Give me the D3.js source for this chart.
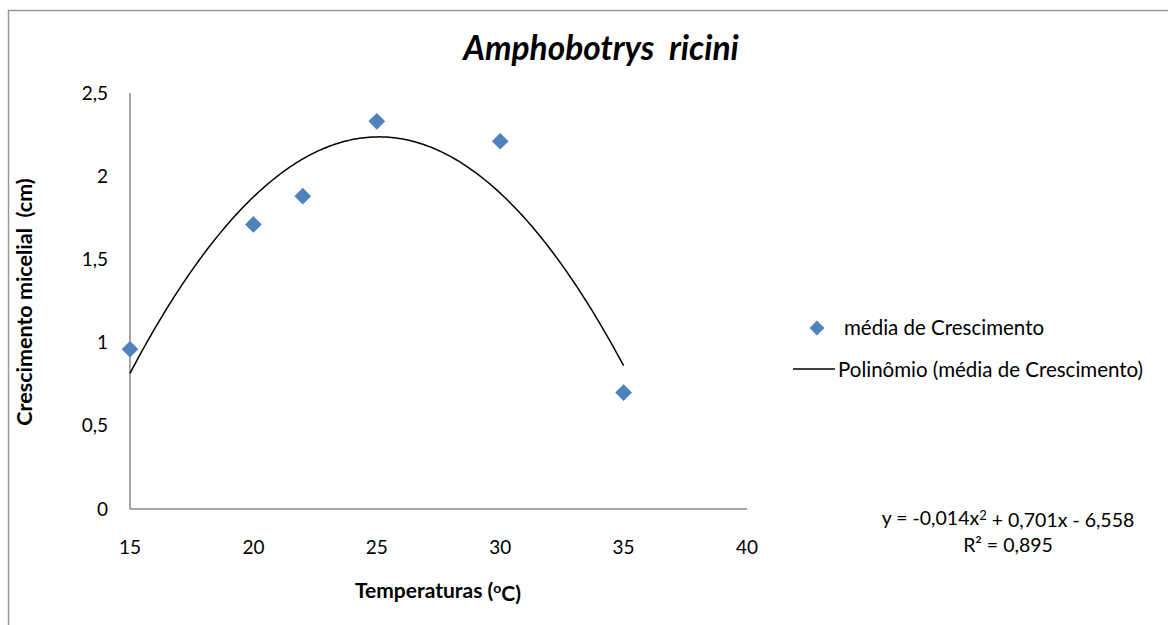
<!DOCTYPE html>
<html>
<head>
<meta charset="utf-8">
<script src="https://cdn.jsdelivr.net/npm/d3@7"></script>
<style>
  body { margin: 0; background: #fff; }
  svg { display: block; font-family: Lato, "Liberation Sans", sans-serif; }
</style>
</head>
<body>
<svg id="chart" width="1168" height="625"></svg>
<script>
// Data
const temperatures = [15, 20, 22, 25, 30, 35];
const growth = [0.96, 1.71, 1.88, 2.33, 2.21, 0.70];
const xTicks = [15, 20, 25, 30, 35, 40];
const yTicks = [0, 0.5, 1, 1.5, 2, 2.5];
const seriesName = "média de Crescimento";
const trendName = "Polinômio (média de Crescimento)";

const svg = d3.select("#chart");
const fmt = (d) => String(d).replace(".", ",");

// Outer chart border (runs off the right and bottom edge)
svg.append("rect")
  .attr("x", 8.5).attr("y", 10.5)
  .attr("width", 1200).attr("height", 700)
  .attr("fill", "none")
  .attr("stroke", "#999")
  .attr("stroke-width", 1.5);

// Scales
const x = d3.scaleLinear().domain([15, 40]).range([130, 747]);
const y = d3.scaleLinear().domain([0, 2.5]).range([509, 93]);

// Axes lines
svg.append("line")
  .attr("x1", x(15)).attr("x2", x(15))
  .attr("y1", y(2.5)).attr("y2", y(0))
  .attr("stroke", "#868686").attr("stroke-width", 1.5);
svg.append("line")
  .attr("x1", x(15)).attr("x2", x(40))
  .attr("y1", y(0)).attr("y2", y(0))
  .attr("stroke", "#868686").attr("stroke-width", 1.5);

// Tick labels
svg.append("g").selectAll("text")
  .data(yTicks)
  .join("text")
  .attr("x", 108)
  .attr("y", (d) => y(d))
  .attr("dy", "0.35em")
  .attr("text-anchor", "end")
  .style("font-size", "19px")
  .attr("fill", "#000")
  .text(fmt);

svg.append("g").selectAll("text")
  .data(xTicks)
  .join("text")
  .attr("x", (d) => x(d))
  .attr("y", 547)
  .attr("dy", "0.35em")
  .attr("text-anchor", "middle")
  .style("font-size", "19px")
  .attr("fill", "#000")
  .text((d) => d);

// Polynomial (order 2) trendline, least squares on the data like Excel
function polyFit2(xs, ys) {
  const n = xs.length;
  let s = [0, 0, 0, 0, 0], t = [0, 0, 0];
  for (let i = 0; i < n; i++) {
    for (let k = 0; k < 5; k++) s[k] += Math.pow(xs[i], k);
    for (let k = 0; k < 3; k++) t[k] += ys[i] * Math.pow(xs[i], k);
  }
  // Solve 3x3 normal equations
  const A = [
    [s[0], s[1], s[2], t[0]],
    [s[1], s[2], s[3], t[1]],
    [s[2], s[3], s[4], t[2]],
  ];
  for (let i = 0; i < 3; i++) {
    for (let j = i + 1; j < 3; j++) {
      const f = A[j][i] / A[i][i];
      for (let k = i; k < 4; k++) A[j][k] -= f * A[i][k];
    }
  }
  const c = [0, 0, 0];
  for (let i = 2; i >= 0; i--) {
    let v = A[i][3];
    for (let k = i + 1; k < 3; k++) v -= A[i][k] * c[k];
    c[i] = v / A[i][i];
  }
  return c; // c0 + c1 x + c2 x^2
}
const coef = polyFit2(temperatures, growth);
const trend = d3.range(15, 35.001, 0.1).map((t) => [t, coef[0] + coef[1] * t + coef[2] * t * t]);

svg.append("path")
  .datum(trend)
  .attr("fill", "none")
  .attr("stroke", "#000")
  .attr("stroke-width", 1.5)
  .attr("d", d3.line().x((d) => x(d[0])).y((d) => y(d[1])));

// Points
const diamond = d3.symbol().type(d3.symbolSquare).size(140);
svg.append("g").selectAll("path")
  .data(temperatures.map((t, i) => [t, growth[i]]))
  .join("path")
  .attr("d", diamond)
  .attr("transform", (d) => `translate(${x(d[0])},${y(d[1])}) rotate(45)`)
  .attr("fill", "#4F81BD");

// Title
svg.append("text")
  .attr("x", 601)
  .attr("y", 48)
  .attr("dy", "0.35em")
  .attr("text-anchor", "middle")
  .style("font-size", "33.5px")
  .style("font-weight", "bold")
  .style("font-style", "italic")
  .style("white-space", "pre")
  .text("Amphobotrys  ricini");

// Axis titles
svg.append("text")
  .attr("transform", "translate(24,302) rotate(-90)")
  .attr("dy", "0.35em")
  .attr("text-anchor", "middle")
  .style("font-size", "21.5px")
  .style("font-weight", "bold")
  .style("white-space", "pre")
  .text("Crescimento micelial  (cm)");

const xt = svg.append("text")
  .attr("x", 438)
  .attr("y", 591)
  .attr("dy", "0.35em")
  .attr("text-anchor", "middle")
  .style("font-size", "21px")
  .style("font-weight", "bold");
xt.append("tspan").text("Temperaturas (");
xt.append("tspan").attr("dy", "-0.4em").style("font-size", "14px").text("o");
xt.append("tspan").attr("dy", "0.4em").text("C)");

// Legend
const legend = svg.append("g").style("font-size", "20.5px");
legend.append("path")
  .attr("d", d3.symbol().type(d3.symbolSquare).size(110))
  .attr("transform", "translate(817,328) rotate(45)")
  .attr("fill", "#4F81BD");
legend.append("text")
  .attr("x", 844).attr("y", 328).attr("dy", "0.35em")
  .text(seriesName);
legend.append("line")
  .attr("x1", 793).attr("x2", 835)
  .attr("y1", 369).attr("y2", 369)
  .attr("stroke", "#000").attr("stroke-width", 1.5);
legend.append("text")
  .attr("x", 838).attr("y", 370).attr("dy", "0.35em")
  .text(trendName);

// Equation and R²
const eq = svg.append("text")
  .attr("x", 1008).attr("y", 518).attr("dy", "0.35em")
  .attr("text-anchor", "middle")
  .style("font-size", "19.5px");
eq.append("tspan").text("y = -0,014x");
eq.append("tspan").attr("dy", "-0.4em").style("font-size", "13px").text("2");
eq.append("tspan").attr("dy", "0.4em").text(" + 0,701x - 6,558");

svg.append("text")
  .attr("x", 1008).attr("y", 545).attr("dy", "0.35em")
  .attr("text-anchor", "middle")
  .style("font-size", "19.5px")
  .text("R² = 0,895");
</script>
</body>
</html>
